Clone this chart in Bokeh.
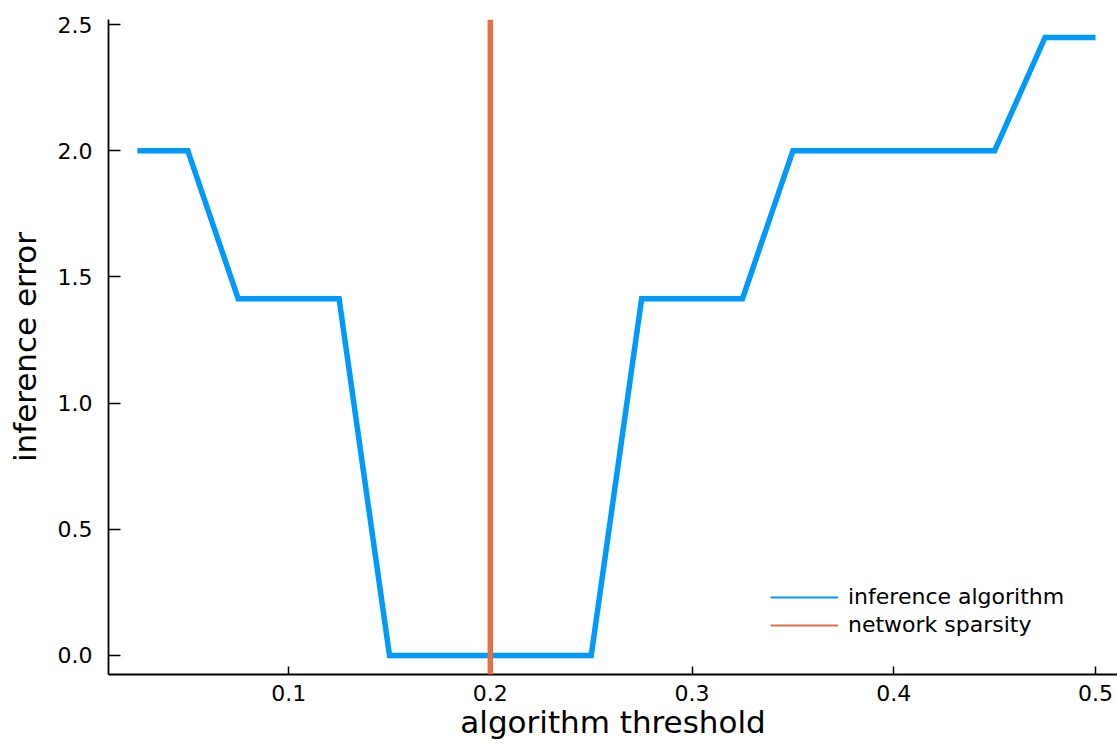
from bokeh.plotting import figure
from bokeh.models import (Range1d, FixedTicker, PrintfTickFormatter, Span,
                          Legend, LegendItem, ColumnDataSource)
from bokeh.embed import file_html
from bokeh.resources import INLINE

# ---- data ----
thresholds = [0.025, 0.05, 0.075, 0.1, 0.125, 0.15, 0.175, 0.2, 0.225, 0.25,
              0.275, 0.3, 0.325, 0.35, 0.375, 0.4, 0.425, 0.45, 0.475, 0.5]
errors = [2.0, 2.0, 1.414, 1.414, 1.414, 0.0, 0.0, 0.0, 0.0, 0.0,
          1.414, 1.414, 1.414, 2.0, 2.0, 2.0, 2.0, 2.0, 2.449, 2.449]
sparsity = 0.2
x_ticks = [0.1, 0.2, 0.3, 0.4, 0.5]
y_ticks = [0.0, 0.5, 1.0, 1.5, 2.0, 2.5]
series_names = ["inference algorithm", "network sparsity"]

BLUE = "#009AFA"
ORANGE = "#E26F46"
FONT = "DejaVu Sans"

p = figure(width=1117, height=747, output_backend="svg", toolbar_location=None,
           x_range=Range1d(0.0107, 0.5109), y_range=Range1d(-0.0753, 2.520),
           min_border_left=108, min_border_right=0, min_border_top=19,
           min_border_bottom=73)
p.outline_line_color = None
p.grid.visible = False
p.background_fill_color = "white"
p.border_fill_color = "white"

main = p.line(thresholds, errors, line_color=BLUE, line_width=5.5,
              line_join="miter")
p.add_layout(Span(location=sparsity, dimension="height", line_color=ORANGE,
                  line_width=5.5))

# thin legend proxies (no visible data)
nan = float("nan")
leg_a = p.line(x=[nan], y=[nan], line_color=BLUE, line_width=2)
leg_b = p.line(x=[nan], y=[nan], line_color=ORANGE, line_width=2)

legend = Legend(items=[LegendItem(label=series_names[0], renderers=[leg_a]),
                       LegendItem(label=series_names[1], renderers=[leg_b])],
                location=(662, 37), padding=0, margin=0, spacing=3,
                glyph_width=68, glyph_height=20, label_standoff=10,
                label_text_font=FONT, label_text_font_size="22px",
                label_text_color="black", border_line_color=None,
                background_fill_alpha=0)
p.add_layout(legend, "center")

for ax in (p.xaxis[0], p.yaxis[0]):
    ax.axis_line_color = "black"
    ax.axis_line_width = 1.8
    ax.major_tick_line_color = "black"
    ax.major_tick_line_width = 1.5
    ax.minor_tick_line_color = None
    ax.major_tick_out = 0
    ax.major_label_text_font = FONT
    ax.major_label_text_font_size = "22px"
    ax.major_label_text_color = "black"
    ax.axis_label_text_font = FONT
    ax.axis_label_text_font_size = "31px"
    ax.axis_label_text_font_style = "normal"
    ax.axis_label_text_color = "black"

p.xaxis.ticker = FixedTicker(ticks=x_ticks)
p.yaxis.ticker = FixedTicker(ticks=y_ticks)
p.xaxis.formatter = PrintfTickFormatter(format="%.1f")
p.yaxis.formatter = PrintfTickFormatter(format="%.1f")
p.xaxis.major_tick_in = 8
p.yaxis.major_tick_in = 12
p.xaxis.major_label_standoff = 10
p.yaxis.major_label_standoff = 16
p.xaxis.axis_label = "algorithm threshold"
p.yaxis.axis_label = "inference error"
p.xaxis.axis_label_standoff = 0
p.yaxis.axis_label_standoff = 12

open("out.html", "w").write(file_html(p, INLINE))
